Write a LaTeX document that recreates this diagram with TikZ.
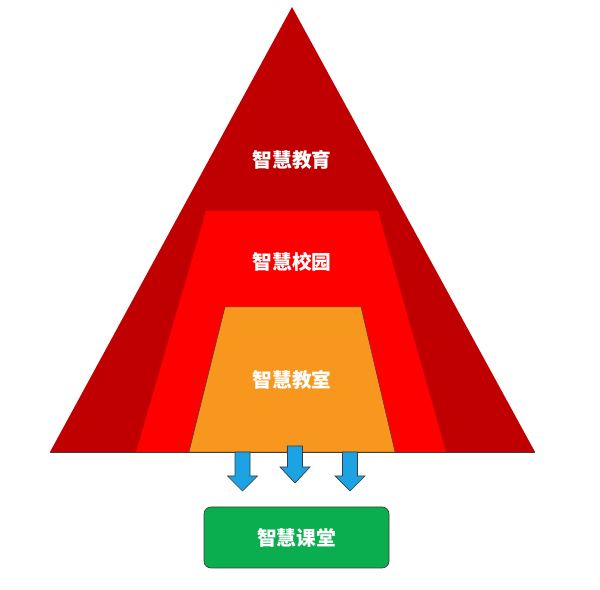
\documentclass[tikz,border=0pt]{standalone}
\usepackage{fontspec}
\newfontfamily\cjk{Noto Sans CJK SC}
\usepackage{tikz}
\usetikzlibrary{positioning}
\definecolor{darkred}{HTML}{C00000}
\definecolor{lvred}{HTML}{FF0000}
\definecolor{lvorange}{HTML}{F7971E}
\definecolor{arrowblue}{HTML}{1CA3E3}
\definecolor{boxgreen}{HTML}{0AAE4F}
\definecolor{edgegray}{HTML}{3C3C3C}
\tikzset{
  lvlabel/.style={text=white,font=\cjk\bfseries\fontsize{14}{16}\selectfont},
  downarrow/.style={fill=arrowblue,draw=edgegray,line width=0.5pt,line join=miter}
}
\begin{document}
\begin{tikzpicture}[x=0.025cm,y=-0.025cm]
\useasboundingbox (0,0) rectangle (600,590);
\fill[darkred] (292,7) -- (535,452) -- (50,452) -- cycle;
\fill[lvred] (206,211) -- (378,211) -- (446,452) -- (136,452) -- cycle;
\draw[fill=lvorange,draw=edgegray,line width=0.3pt] (225,307) -- (361,307) -- (395,452) -- (189,452) -- cycle;
\draw[edgegray,line width=0.4pt] (50,452) -- (535,452);
\node[lvlabel] (edu) at (292,160) {智慧教育};
\node[lvlabel] (campus) at (292,262) {智慧校园};
\node[lvlabel] (room) at (292,380) {智慧教室};
\foreach \cx/\top/\neck/\tip in {242.5/452/476/491,295/446/467/483,350/452/476/491}
  {\draw[downarrow] (\cx-7.5,\top) -- (\cx+7.5,\top) -- (\cx+7.5,\neck) -- (\cx+15,\neck) -- (\cx,\tip) -- (\cx-15,\neck) -- (\cx-7.5,\neck) -- cycle;}
\draw[fill=boxgreen,draw=edgegray,line width=0.5pt,rounded corners=5] (204,507) rectangle (389,568);
\node[lvlabel] (lesson) at (296.5,537.5) {智慧课堂};
\end{tikzpicture}
\end{document}
